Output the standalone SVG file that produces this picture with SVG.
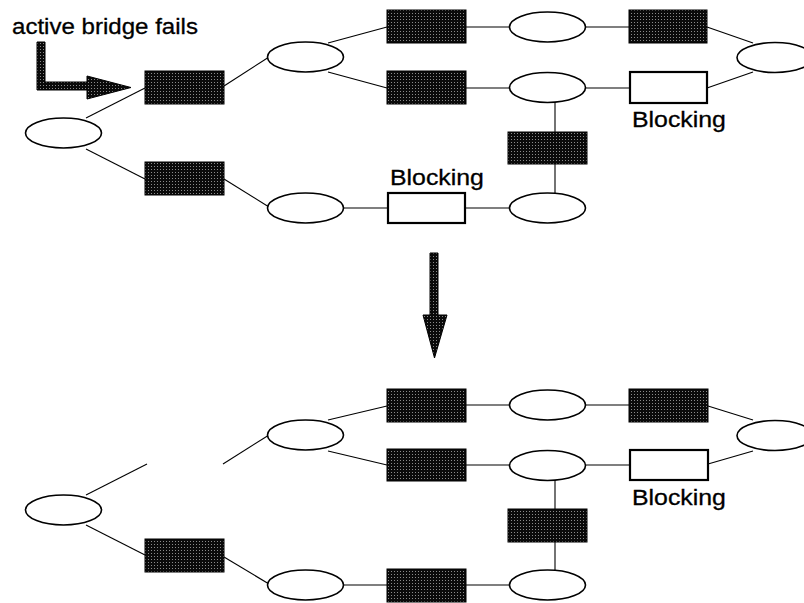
<svg xmlns="http://www.w3.org/2000/svg" width="804" height="603" viewBox="0 0 804 603">
  <style>
    .seg { fill: #fff; stroke: #000; stroke-width: 1.6; }
    .fwd { fill: url(#stipple); stroke: #000; stroke-width: 1; }
    .blk { fill: #fff; stroke: #000; stroke-width: 2.2; }
    .link { stroke: #000; stroke-width: 1.1; fill: none; }
    .lbl { font-family: "Liberation Sans", Arial, sans-serif; font-size: 22px; fill: #000; stroke: #000; stroke-width: 0.3; }
    .big { fill: url(#stipple); stroke: #000; stroke-width: 1; }
  </style>
  <defs>
    <!-- dark stippled fill used for forwarding bridges -->
    <pattern id="stipple" width="3" height="3" patternUnits="userSpaceOnUse">
      <rect width="3" height="3" fill="#0a0a0a"/>
      <rect x="1" y="1" width="1" height="1" fill="#8a8a8a"/>
    </pattern>
  </defs>

  <!-- ===== Before failure ===== -->
  <g id="connectors-top">
    <line class="link" x1="86" y1="118" x2="145" y2="88"/>
    <line class="link" x1="86" y1="149" x2="145" y2="179"/>
    <line class="link" x1="224" y1="86" x2="269" y2="57"/>
    <line class="link" x1="224" y1="179" x2="269" y2="207"/>
    <line class="link" x1="328" y1="43" x2="387" y2="27"/>
    <line class="link" x1="328" y1="72" x2="387" y2="88"/>
    <line class="link" x1="466" y1="27" x2="509" y2="27"/>
    <line class="link" x1="586" y1="27" x2="629" y2="27"/>
    <line class="link" x1="707" y1="27" x2="753" y2="43"/>
    <line class="link" x1="466" y1="88" x2="509" y2="88"/>
    <line class="link" x1="586" y1="88" x2="630" y2="88"/>
    <line class="link" x1="707" y1="88" x2="753" y2="72"/>
    <line class="link" x1="555" y1="102" x2="555" y2="132"/>
    <line class="link" x1="555" y1="164" x2="555" y2="193"/>
    <line class="link" x1="343" y1="208" x2="388" y2="208"/>
    <line class="link" x1="465" y1="208" x2="509" y2="208"/>
  </g>

  <g id="t-lan-a"><ellipse class="seg" cx="63.5" cy="133" rx="38" ry="15"/></g>
  <g id="t-br-1"><rect class="fwd" x="145" y="71" width="79" height="33"/></g>
  <g id="t-br-2"><rect class="fwd" x="145" y="162" width="79" height="33"/></g>
  <g id="t-lan-b"><ellipse class="seg" cx="305.5" cy="57" rx="38" ry="15"/></g>
  <g id="t-lan-c"><ellipse class="seg" cx="305.5" cy="208" rx="38" ry="15"/></g>
  <g id="t-br-3"><rect class="fwd" x="387" y="10" width="79" height="33"/></g>
  <g id="t-br-4"><rect class="fwd" x="387" y="71" width="79" height="33"/></g>
  <g id="t-br-5">
    <rect class="blk" x="388" y="193" width="77" height="30"/>
    <text class="lbl" transform="translate(390 184.5) scale(1.13 1)">Blocking</text>
  </g>
  <g id="t-lan-d"><ellipse class="seg" cx="547.5" cy="27" rx="38" ry="15"/></g>
  <g id="t-lan-e"><ellipse class="seg" cx="547.5" cy="87.5" rx="38" ry="15"/></g>
  <g id="t-br-6"><rect class="fwd" x="508" y="132" width="79" height="32"/></g>
  <g id="t-lan-f"><ellipse class="seg" cx="547.5" cy="208" rx="38" ry="15"/></g>
  <g id="t-br-7"><rect class="fwd" x="629" y="10" width="78" height="33"/></g>
  <g id="t-br-8">
    <rect class="blk" x="630" y="72" width="77" height="31"/>
    <text class="lbl" transform="translate(632 126.5) scale(1.13 1)">Blocking</text>
  </g>
  <g id="t-lan-g"><ellipse class="seg" cx="775" cy="57.5" rx="38" ry="15"/></g>

  <!-- failure callout -->
  <g id="callout">
    <text class="lbl" transform="translate(12 33.5) scale(1.095 1)">active bridge fails</text>
    <path class="big" d="M37,42 H45 V82 H87 V76 L131,87.5 L87,99 V90 H37 Z"/>
  </g>

  <!-- transition arrow -->
  <g id="transition">
    <path class="big" d="M430,253 H438 V315 H447 L434.5,358 L423,315 H430 Z"/>
  </g>

  <!-- ===== After reconfiguration ===== -->
  <g id="connectors-bottom">
    <line class="link" x1="86" y1="495" x2="147" y2="464"/>
    <line class="link" x1="223" y1="464" x2="269" y2="435"/>
    <line class="link" x1="86" y1="525" x2="145" y2="555"/>
    <line class="link" x1="224" y1="557" x2="269" y2="584"/>
    <line class="link" x1="328" y1="420" x2="387" y2="406"/>
    <line class="link" x1="328" y1="451" x2="387" y2="465"/>
    <line class="link" x1="466" y1="405" x2="509" y2="405"/>
    <line class="link" x1="586" y1="405" x2="629" y2="405"/>
    <line class="link" x1="708" y1="406" x2="753" y2="420"/>
    <line class="link" x1="466" y1="465" x2="509" y2="465"/>
    <line class="link" x1="586" y1="465" x2="630" y2="465"/>
    <line class="link" x1="708" y1="464" x2="753" y2="451"/>
    <line class="link" x1="555" y1="480" x2="555" y2="509"/>
    <line class="link" x1="555" y1="542" x2="555" y2="570"/>
    <line class="link" x1="343" y1="585" x2="387" y2="585"/>
    <line class="link" x1="466" y1="585" x2="509" y2="585"/>
  </g>

  <g id="b-lan-a"><ellipse class="seg" cx="63.5" cy="510" rx="38" ry="15"/></g>
  <g id="b-br-2"><rect class="fwd" x="145" y="539" width="79" height="33"/></g>
  <g id="b-lan-b"><ellipse class="seg" cx="305.5" cy="435" rx="38" ry="15"/></g>
  <g id="b-lan-c"><ellipse class="seg" cx="305.5" cy="585" rx="38" ry="15"/></g>
  <g id="b-br-3"><rect class="fwd" x="387" y="389" width="79" height="33"/></g>
  <g id="b-br-4"><rect class="fwd" x="387" y="449" width="79" height="32"/></g>
  <g id="b-br-5"><rect class="fwd" x="387" y="569" width="79" height="33"/></g>
  <g id="b-lan-d"><ellipse class="seg" cx="547.5" cy="405" rx="38" ry="15"/></g>
  <g id="b-lan-e"><ellipse class="seg" cx="547.5" cy="465.5" rx="38" ry="15"/></g>
  <g id="b-br-6"><rect class="fwd" x="508" y="509" width="79" height="33"/></g>
  <g id="b-lan-f"><ellipse class="seg" cx="547.5" cy="585" rx="38" ry="15"/></g>
  <g id="b-br-7"><rect class="fwd" x="629" y="389" width="79" height="33"/></g>
  <g id="b-br-8">
    <rect class="blk" x="630" y="450" width="78" height="30"/>
    <text class="lbl" transform="translate(632 504.5) scale(1.13 1)">Blocking</text>
  </g>
  <g id="b-lan-g"><ellipse class="seg" cx="775" cy="435.5" rx="38" ry="15"/></g>
</svg>
